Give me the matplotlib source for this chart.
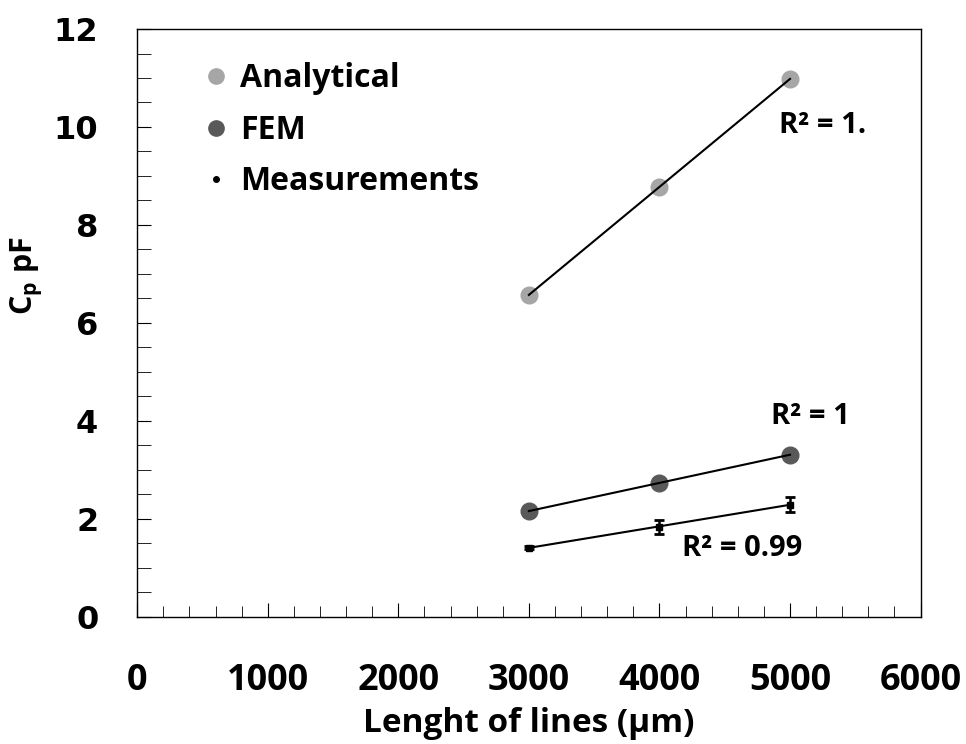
import numpy as np
import matplotlib.pyplot as plt
from matplotlib.lines import Line2D
from matplotlib.ticker import MultipleLocator

plt.rcParams['font.family'] = ['Open Sans', 'DejaVu Sans']
plt.rcParams['mathtext.fontset'] = 'custom'
plt.rcParams['mathtext.bf'] = 'Open Sans:bold'
plt.rcParams['mathtext.rm'] = 'Open Sans:bold'

# Data
length = np.array([3000, 4000, 5000])  # um
analytical = np.array([6.57, 8.78, 10.98])
fem = np.array([2.16, 2.73, 3.31])
measured = np.array([1.41, 1.84, 2.29])
measured_err = np.array([0.03, 0.14, 0.15])
r2_labels = ['R² = 1.', 'R² = 1', 'R² = 0.99']

fig = plt.figure(figsize=(9.66, 7.44), dpi=100)
ax = fig.add_axes([0.142, 0.171, 0.811, 0.790])

ax.plot(length, analytical, 'o', color='#a6a6a6', markersize=12, zorder=3)
ax.plot(length, fem, 'o', color='#595959', markersize=12, zorder=3)
ax.errorbar(length, measured, yerr=measured_err, fmt='s', color='black', markersize=4,
            ecolor='black', elinewidth=1.8, capsize=3.5, capthick=2, zorder=4)

# linear trendlines
for y in (analytical, fem, measured):
    k, b = np.polyfit(length, y, 1)
    ax.plot(length, k * length + b, color='black', lw=1.5, zorder=3.5)

ax.text(5250, 10.03, r2_labels[0], fontsize=21, fontweight='bold', ha='center', va='center')
ax.text(5155, 4.08, r2_labels[1], fontsize=21, fontweight='bold', ha='center', va='center')
ax.text(4630, 1.4, r2_labels[2], fontsize=21, fontweight='bold', ha='center', va='center')

ax.set_xlim(0, 6000)
ax.set_ylim(0, 12)
ax.xaxis.set_major_locator(MultipleLocator(1000))
ax.xaxis.set_minor_locator(MultipleLocator(200))
ax.yaxis.set_major_locator(MultipleLocator(2))
ax.yaxis.set_minor_locator(MultipleLocator(0.5))
ax.tick_params(which='both', direction='in', top=False, right=False)
ax.tick_params(axis='x', which='major', length=10, pad=33, labelsize=26)
ax.tick_params(axis='x', which='minor', length=8)
ax.tick_params(axis='y', which='major', length=10, pad=28, labelsize=23)
ax.tick_params(axis='y', which='minor', length=10)
for lab in ax.get_xticklabels():
    lab.set_fontweight('bold')
for lab in ax.get_yticklabels():
    lab.set_fontweight('bold')
    lab.set_family('DejaVu Sans')
for sp in ax.spines.values():
    sp.set_linewidth(1.0)

ax.set_xlabel('Lenght of lines (µm)', fontsize=24, fontweight='bold')
ax.xaxis.set_label_coords(0.5, -0.153)
ax.set_ylabel(r'C$_\mathbf{p}$ pF', fontsize=22, fontweight='bold')
ax.yaxis.set_label_coords(-0.118, 0.58)

handles = [
    Line2D([], [], marker='o', ls='none', color='#a6a6a6', markersize=11),
    Line2D([], [], marker='o', ls='none', color='#595959', markersize=11),
    Line2D([], [], marker='o', ls='none', color='black', markersize=4),
]
ax.legend(handles, ['Analytical', 'FEM', 'Measurements'], loc='upper left',
          bbox_to_anchor=(0.072, 0.965), frameon=False,
          prop={'weight': 'bold', 'size': 23}, handlelength=0.6, handletextpad=0.45,
          labelspacing=0.58, borderaxespad=0)

fig.savefig('out.png', dpi=100)
